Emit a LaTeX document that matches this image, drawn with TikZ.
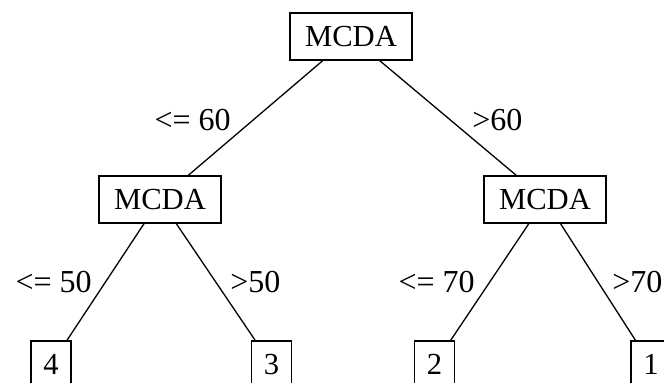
\documentclass[tikz,border=0pt]{standalone}
\usepackage{fontspec}
\setmainfont{Liberation Serif}
\begin{document}
\begin{tikzpicture}[x=0.5pt,y=-0.5pt,
  font=\fontsize{15.3}{18}\selectfont,
  box/.style={draw, line width=0.65pt, minimum height=23.5pt, inner sep=0pt},
  innerbox/.style={box, minimum width=61pt},
  leafbox/.style={box, minimum width=20pt},
  lbl/.style={inner sep=0pt, font=\fontsize{16}{18}\selectfont},
  conn/.style={line width=0.65pt}]
\useasboundingbox (0,0) rectangle (664,383);
\node[innerbox] (root) at (351,36.5) {MCDA};
\node[innerbox] (c1) at (160,199.5) {MCDA};
\node[innerbox] (c2) at (545,199.5) {MCDA};
\node[leafbox] (f4) at (51,364.5) {4};
\node[leafbox] (f3) at (271.5,364.5) {3};
\node[leafbox] (f2) at (434.5,364.5) {2};
\node[leafbox] (f1) at (651,364.5) {1};
\draw[conn] (root) -- (c1);
\draw[conn] (root) -- (c2);
\draw[conn] (c1) -- (f4);
\draw[conn] (c1) -- (f3);
\draw[conn] (c2) -- (f2);
\draw[conn] (c2) -- (f1);
\node[lbl, anchor=east] (l1) at (231,120) {<= 60};
\node[lbl, anchor=west] (l2) at (472,120) {>60};
\node[lbl, anchor=east] (l3) at (92,282) {<= 50};
\node[lbl, anchor=west] (l4) at (230,282) {>50};
\node[lbl, anchor=east] (l5) at (475,282) {<= 70};
\node[lbl, anchor=west] (l6) at (612,282) {>70};
\end{tikzpicture}
\end{document}
